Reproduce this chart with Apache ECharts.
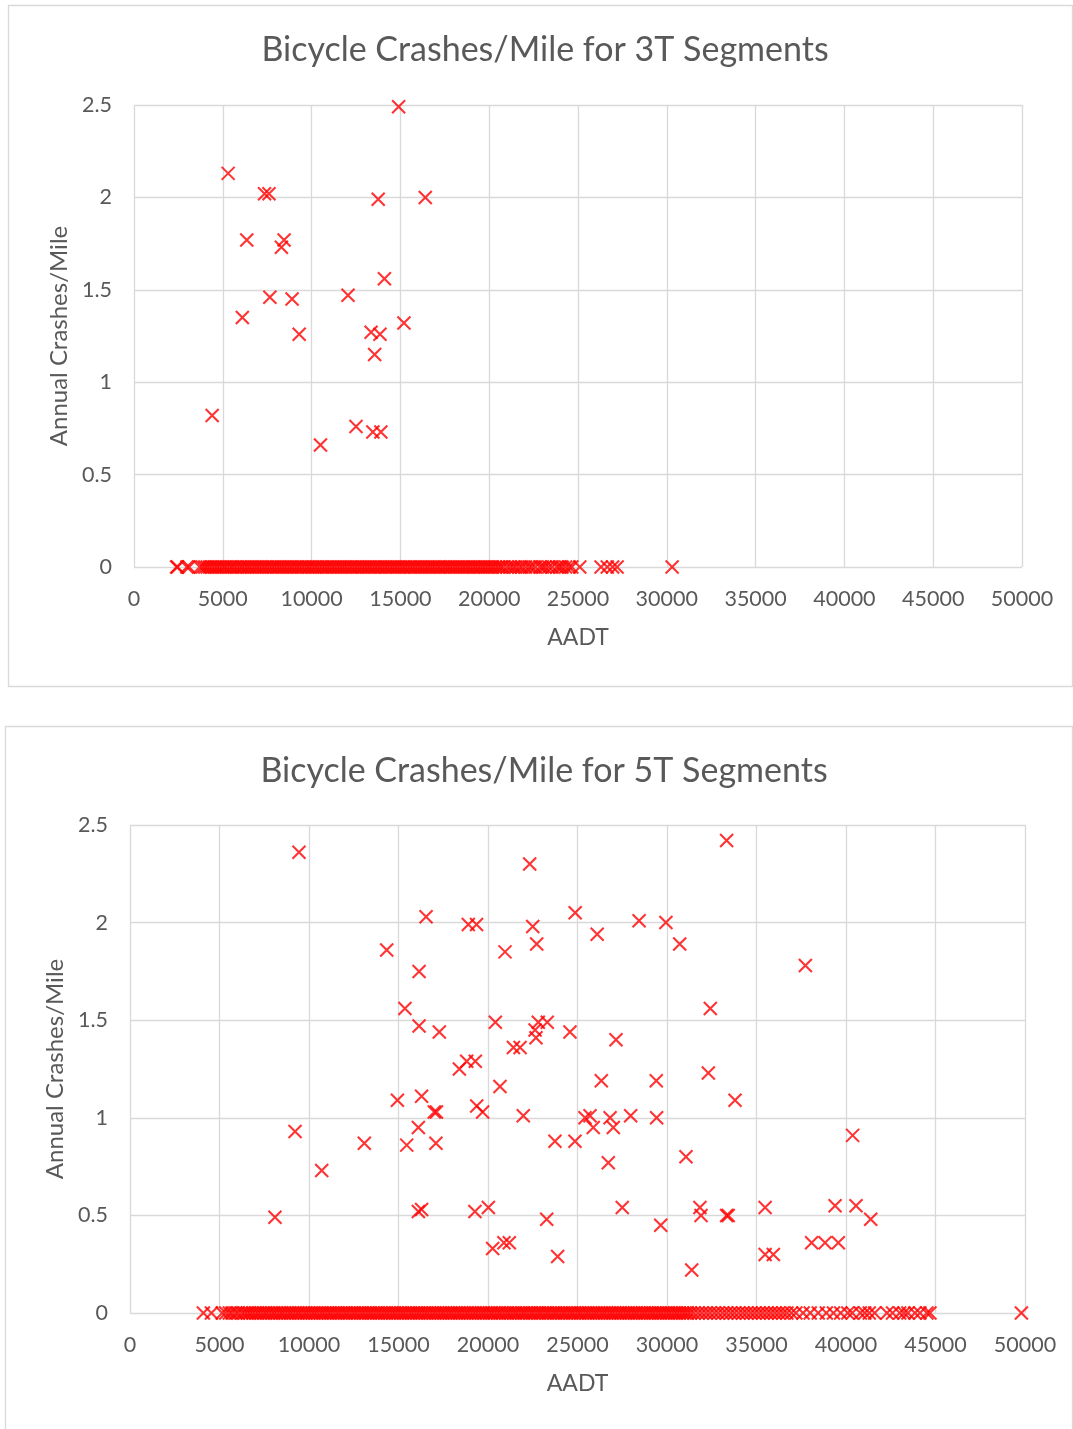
<!DOCTYPE html>
<html>
<head>
<meta charset="utf-8">
<script src="https://cdn.jsdelivr.net/npm/echarts@6/dist/echarts.min.js"></script>
<style>
  html, body { margin: 0; padding: 0; background: #fff; }
  #chart { width: 1073px; height: 1429px; }
</style>
</head>
<body>
<div id="chart"></div>
<script>
// Bicycle crashes per mile vs AADT, 3T and 5T segments

var xTicks = [0, 5000, 10000, 15000, 20000, 25000, 30000, 35000, 40000, 45000, 50000];
var yTicks = [0, 0.5, 1, 1.5, 2, 2.5];

// 3T segments with crashes
var aadt3T = [14900, 5300, 7350, 7600, 13750, 16400, 6350, 8450, 8300, 7650, 8900, 12050,
  14100, 6100, 15200, 13350, 13850, 9300, 13550, 4400, 12500, 13450, 13900, 10500];
var rate3T = [2.49, 2.13, 2.02, 2.02, 1.99, 2.00, 1.77, 1.77, 1.73, 1.46, 1.45, 1.47,
  1.56, 1.35, 1.32, 1.27, 1.26, 1.26, 1.15, 0.82, 0.76, 0.73, 0.73, 0.66];

// 3T segments with no crashes (rate 0)
var zeroAadt3T = [2400, 2450, 2980, 3100, 3700, 3850, 3990, 4120, 4260, 4400, 4550, 4680,
  4820, 4970, 5100, 5230, 5390, 5520, 5660, 5800, 5950, 6080, 6220, 6370, 6500, 6640, 6790,
  6920, 7060, 7210, 7350, 7480, 7630, 7770, 7900, 8050, 8190, 8330, 8470, 8610, 8760, 8890,
  9040, 9180, 9320, 9460, 9600, 9750, 9880, 10030, 10170, 10300, 10450, 10590, 10730, 10870,
  11010, 11160, 11290, 11440, 11580, 11720, 11860, 12000, 12150, 12280, 12430, 12570, 12710,
  12850, 12990, 13140, 13270, 13420, 13560, 13700, 13840, 13980, 14130, 14260, 14410, 14550,
  14690, 14830, 14970, 15120, 15250, 15400, 15540, 15680, 15820, 15960, 16110, 16240, 16390,
  16530, 16670, 16810, 16950, 17100, 17230, 17380, 17520, 17660, 17800, 17940, 18090, 18220,
  18370, 18510, 18650, 18790, 18930, 19080, 19210, 19360, 19500, 19640, 19780, 19920, 20070,
  20200, 20350, 20500, 20640, 20790, 21000, 21180, 21350, 21500, 21700, 21850, 22050, 22250,
  22400, 22600, 22850, 23000, 23150, 23350, 23550, 23800, 23950, 24100, 24300, 24500, 24650,
  25100, 26300, 26650, 26950, 27200, 30300];

// 5T segments with crashes
var aadt5T = [9440, 22330, 33330, 16540, 18900, 19360, 22500, 24870, 28440, 29940, 26100,
  22720, 30710, 14340, 20950, 37730, 16150, 15360, 32420, 16150, 17280, 20410, 22810, 23310,
  22630, 22680, 24580, 27150, 21420, 21790, 18400, 18810, 19290, 20670, 26330, 29400, 32310,
  14940, 16290, 33800, 17000, 17120, 19370, 19700, 21970, 25420, 25700, 25880, 26820, 27000,
  27970, 29420, 9220, 40370, 16110, 13090, 15460, 17090, 23740, 24860, 31060, 26720, 10710,
  8100, 16110, 16290, 19270, 20020, 23280, 27500, 29650, 31840, 31900, 33330, 33420, 35480,
  39390, 40560, 41380, 20260, 20890, 21190, 23890, 31380, 35480, 35940, 38080, 38830, 39570];
var rate5T = [2.36, 2.30, 2.42, 2.03, 1.99, 1.99, 1.98, 2.05, 2.01, 2.00, 1.94,
  1.89, 1.89, 1.86, 1.85, 1.78, 1.75, 1.56, 1.56, 1.47, 1.44, 1.49, 1.49, 1.49,
  1.45, 1.41, 1.44, 1.40, 1.36, 1.36, 1.25, 1.29, 1.29, 1.16, 1.19, 1.19, 1.23,
  1.09, 1.11, 1.09, 1.03, 1.03, 1.06, 1.03, 1.01, 1.00, 1.01, 0.95, 1.00, 0.95,
  1.01, 1.00, 0.93, 0.91, 0.95, 0.87, 0.86, 0.87, 0.88, 0.88, 0.80, 0.77, 0.73,
  0.49, 0.52, 0.53, 0.52, 0.54, 0.48, 0.54, 0.45, 0.54, 0.50, 0.50, 0.50, 0.54,
  0.55, 0.55, 0.48, 0.33, 0.36, 0.36, 0.29, 0.22, 0.30, 0.30, 0.36, 0.36, 0.36];

// 5T segments with no crashes (rate 0)
var zeroAadt5T = [4100, 4550, 5150, 5350, 5550, 5700, 5900, 6050, 6250, 6400, 6560, 6700,
  6850, 7010, 7150, 7300, 7460, 7600, 7750, 7910, 8050, 8200, 8360, 8500, 8650, 8810, 8950,
  9100, 9260, 9400, 9550, 9710, 9850, 10000, 10160, 10300, 10450, 10610, 10750, 10900, 11060,
  11200, 11350, 11510, 11650, 11800, 11960, 12100, 12250, 12410, 12550, 12700, 12860, 13000,
  13150, 13310, 13450, 13600, 13760, 13900, 14050, 14210, 14350, 14500, 14660, 14800, 14950,
  15110, 15250, 15400, 15560, 15700, 15850, 16010, 16150, 16300, 16460, 16600, 16750, 16910,
  17050, 17200, 17360, 17500, 17650, 17810, 17950, 18100, 18260, 18400, 18550, 18710, 18850,
  19000, 19160, 19300, 19450, 19610, 19750, 19900, 20060, 20200, 20350, 20510, 20650, 20800,
  20960, 21100, 21250, 21410, 21550, 21700, 21860, 22000, 22150, 22310, 22450, 22600, 22760,
  22900, 23050, 23210, 23350, 23500, 23660, 23800, 23950, 24110, 24250, 24400, 24560, 24700,
  24850, 25010, 25150, 25300, 25460, 25600, 25750, 25910, 26050, 26200, 26360, 26500, 26650,
  26810, 26950, 27100, 27260, 27400, 27550, 27710, 27850, 28000, 28160, 28300, 28450, 28610,
  28750, 28900, 29060, 29200, 29350, 29510, 29650, 29800, 29960, 30100, 30250, 30410, 30550,
  30700, 30860, 31000, 31150, 31310, 31500, 31730, 31950, 32180, 32400, 32640, 32860, 33100,
  33320, 33550, 33770, 34000, 34230, 34450, 34680, 34900, 35130, 35350, 35580, 35800, 36030,
  36250, 36480, 36700, 36950, 37200, 37600, 38000, 38450, 38900, 39300, 39700, 40100, 40350,
  40800, 41050, 41300, 41600, 42290, 42600, 43000, 43240, 43460, 43850, 44130, 44520, 44690,
  49800];

function pairs(xs, ys) {
  return xs.map(function (x, i) { return [x, ys[i]]; });
}
function zeros(xs) {
  return xs.map(function (x) { return [x, 0]; });
}

var txt = '#595959';
var gridColor = '#d9d9d9';
var font = 'Lato';
var cross = 'path://M0,0L10,10M0,10L10,0';

function xAxisFor(gi) {
  return {
    gridIndex: gi, type: 'value', min: 0, max: 50000, interval: 5000,
    name: 'AADT', nameLocation: 'middle', nameGap: 59,
    nameTextStyle: { color: txt, fontSize: 23, fontFamily: font },
    axisLine: { show: false }, axisTick: { show: false },
    axisLabel: { color: txt, fontSize: 21.5, fontFamily: font, margin: 21,
      formatter: function (v) { return String(v); } },
    splitLine: { show: true, lineStyle: { color: gridColor, width: 1.3 } }
  };
}
function yAxisFor(gi) {
  return {
    gridIndex: gi, type: 'value', min: 0, max: 2.5, interval: 0.5,
    name: 'Annual Crashes/Mile', nameLocation: 'middle', nameGap: 63,
    nameTextStyle: { color: txt, fontSize: 24, fontFamily: font },
    axisLine: { show: false }, axisTick: { show: false },
    axisLabel: { color: txt, fontSize: 21.5, fontFamily: font, margin: 22 },
    splitLine: { show: true, lineStyle: { color: gridColor, width: 1.3 } }
  };
}
function scatterFor(gi, data) {
  return {
    type: 'scatter', xAxisIndex: gi, yAxisIndex: gi, data: data,
    symbol: cross, symbolSize: 13, silent: true,
    itemStyle: { color: '#ff0000', borderColor: '#ff0000', borderWidth: 2.1 },
    emphasis: { disabled: true }
  };
}

var myChart = echarts.init(document.getElementById('chart'));
var option = {
  animation: false,
  graphic: [
    { type: 'rect', shape: { x: 8.5, y: 5.5, width: 1064, height: 681 },
      style: { fill: 'none', stroke: gridColor, lineWidth: 1.3 } },
    { type: 'rect', shape: { x: 5.5, y: 726.5, width: 1067, height: 710 },
      style: { fill: 'none', stroke: gridColor, lineWidth: 1.3 } },
    { type: 'text', x: 545, y: 50,
      style: { text: 'Bicycle Crashes/Mile for 3T Segments', fill: txt, font: '34px Lato',
        textAlign: 'center', textVerticalAlign: 'middle' } },
    { type: 'text', x: 544, y: 771,
      style: { text: 'Bicycle Crashes/Mile for 5T Segments', fill: txt, font: '34px Lato',
        textAlign: 'center', textVerticalAlign: 'middle' } }
  ],
  grid: [
    { left: 134, top: 105, width: 888, height: 462 },
    { left: 130, top: 825, width: 895, height: 488 }
  ],
  xAxis: [xAxisFor(0), xAxisFor(1)],
  yAxis: [yAxisFor(0), yAxisFor(1)],
  series: [
    scatterFor(0, zeros(zeroAadt3T)),
    scatterFor(0, pairs(aadt3T, rate3T)),
    scatterFor(1, zeros(zeroAadt5T)),
    scatterFor(1, pairs(aadt5T, rate5T))
  ]
};
myChart.setOption(option);
window.addEventListener('resize', function () { myChart.resize(); });
</script>
</body>
</html>
